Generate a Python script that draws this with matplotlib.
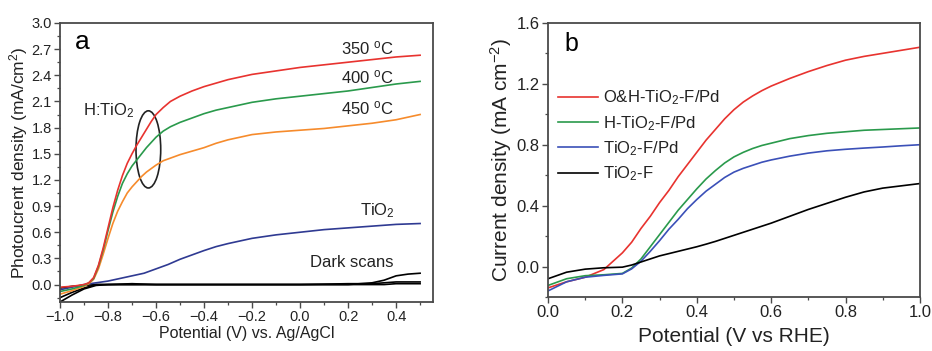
import matplotlib
matplotlib.use("Agg")
import matplotlib.pyplot as plt
from matplotlib.patches import Ellipse
from matplotlib.ticker import MultipleLocator

plt.rcParams['font.family'] = ['Liberation Sans', 'DejaVu Sans']
plt.rcParams['mathtext.fontset'] = 'custom'
plt.rcParams['mathtext.rm'] = 'Liberation Sans'
plt.rcParams['mathtext.it'] = 'Liberation Sans:italic'
plt.rcParams['mathtext.bf'] = 'Liberation Sans:bold'

# ---------------- Panel a data ----------------
xa = [-1.0, -0.95, -0.9, -0.88, -0.86, -0.84, -0.82, -0.8, -0.78, -0.76, -0.74, -0.72, -0.70,
      -0.68, -0.66, -0.64, -0.62, -0.60, -0.57, -0.54, -0.5, -0.45, -0.4, -0.35, -0.3, -0.25,
      -0.2, -0.1, 0.0, 0.1, 0.2, 0.3, 0.4, 0.5]
red_a = [-0.03, -0.02, 0.0, 0.02, 0.08, 0.22, 0.42, 0.65, 0.88, 1.08, 1.25, 1.39, 1.50,
         1.60, 1.69, 1.78, 1.87, 1.95, 2.03, 2.10, 2.16, 2.22, 2.27, 2.31, 2.35, 2.38,
         2.41, 2.45, 2.49, 2.52, 2.55, 2.58, 2.61, 2.63]
green_a = [-0.08, -0.05, -0.01, 0.02, 0.07, 0.21, 0.40, 0.62, 0.83, 1.01, 1.16, 1.27, 1.36,
           1.43, 1.50, 1.57, 1.63, 1.69, 1.76, 1.81, 1.86, 1.91, 1.96, 2.00, 2.03, 2.06,
           2.09, 2.13, 2.16, 2.19, 2.22, 2.26, 2.30, 2.33]
orange_a = [-0.11, -0.07, -0.02, 0.01, 0.06, 0.18, 0.35, 0.53, 0.70, 0.84, 0.95, 1.05, 1.12,
            1.18, 1.24, 1.29, 1.33, 1.37, 1.42, 1.45, 1.49, 1.53, 1.57, 1.62, 1.66, 1.69,
            1.72, 1.75, 1.77, 1.79, 1.82, 1.85, 1.89, 1.95]

xa_blue = [-1.0, -0.95, -0.9, -0.85, -0.8, -0.75, -0.7, -0.65, -0.6, -0.55, -0.5, -0.45,
           -0.4, -0.35, -0.3, -0.25, -0.2, -0.1, 0.0, 0.1, 0.2, 0.3, 0.4, 0.5]
blue_a = [-0.06, -0.03, 0.0, 0.02, 0.04, 0.07, 0.10, 0.13, 0.18, 0.23, 0.29, 0.34,
          0.39, 0.435, 0.47, 0.50, 0.53, 0.57, 0.60, 0.63, 0.65, 0.67, 0.69, 0.70]

xa_dark = [-1.0, -0.95, -0.9, -0.85, -0.8, -0.7, -0.6, -0.4, -0.2, 0.0, 0.2, 0.3, 0.35, 0.4, 0.45, 0.5]
dark1 = [-0.20, -0.12, -0.05, -0.01, 0.0, 0.01, 0.0, 0.0, 0.0, 0.0, 0.0, 0.02, 0.05, 0.10, 0.12, 0.13]
dark2 = [-0.15, -0.09, -0.04, 0.0, 0.0, 0.0, 0.0, 0.0, 0.0, 0.0, 0.01, 0.01, 0.02, 0.03, 0.03, 0.03]
dark3 = [-0.04, -0.02, -0.01, 0.0, 0.0, 0.0, 0.0, 0.0, 0.0, 0.0, 0.0, 0.0, 0.0, 0.01, 0.01, 0.01]

# ---------------- Panel b data ----------------
xb = [0.0, 0.05, 0.1, 0.15, 0.2, 0.225, 0.25, 0.275, 0.3, 0.325, 0.35, 0.375, 0.4, 0.425,
      0.45, 0.475, 0.5, 0.525, 0.55, 0.575, 0.6, 0.65, 0.7, 0.75, 0.8, 0.85, 0.9, 0.95, 1.0]
ohtio2 = [-0.14, -0.10, -0.07, -0.02, 0.09, 0.16, 0.25, 0.33, 0.42, 0.50, 0.59, 0.67, 0.75, 0.83,
          0.90, 0.97, 1.03, 1.08, 1.12, 1.155, 1.185, 1.235, 1.28, 1.32, 1.355, 1.38, 1.40, 1.42, 1.44]
htio2 = [-0.124, -0.08, -0.06, -0.054, -0.045, -0.01, 0.05, 0.13, 0.21, 0.29, 0.37, 0.44, 0.51,
         0.575, 0.63, 0.68, 0.72, 0.75, 0.775, 0.795, 0.81, 0.84, 0.86, 0.875, 0.885, 0.895,
         0.90, 0.905, 0.91]
tio2pd = [-0.16, -0.10, -0.07, -0.058, -0.048, -0.015, 0.035, 0.10, 0.17, 0.245, 0.31, 0.38, 0.44,
          0.495, 0.54, 0.585, 0.62, 0.645, 0.665, 0.685, 0.70, 0.725, 0.745, 0.76, 0.77, 0.778,
          0.785, 0.793, 0.80]
tio2f = [-0.08, -0.037, -0.017, -0.008, -0.004, 0.01, 0.03, 0.05, 0.07, 0.085, 0.10, 0.115, 0.13,
         0.147, 0.165, 0.185, 0.205, 0.225, 0.245, 0.265, 0.285, 0.33, 0.375, 0.415, 0.455,
         0.49, 0.515, 0.53, 0.545]
labels_b = ['O&H-TiO$_2$-F/Pd', 'H-TiO$_2$-F/Pd', 'TiO$_2$-F/Pd', 'TiO$_2$-F']

RED = '#e8332f'
GREEN = '#2a9a4c'
ORANGE = '#f68b2c'
NAVY = '#2f3a92'
BLUE = '#3b50b8'
TXT = '#222222'
SPINE = '#4a4a4a'

fig = plt.figure(figsize=(9.32, 3.51), dpi=100)
axa = fig.add_axes([0.0644, 0.1396, 0.400, 0.795])
axb = fig.add_axes([0.588, 0.1538, 0.399, 0.781])

def style(ax, fs):
    for s in ax.spines.values():
        s.set_color(SPINE)
        s.set_linewidth(1.3)
    ax.tick_params(which='major', direction='out', length=4, width=1.0, color=SPINE,
                   labelsize=fs, labelcolor=TXT, pad=2)
    ax.tick_params(which='minor', direction='out', length=2.5, width=0.9, color=SPINE)
    ax.tick_params(top=False, right=False)

lw = 1.2
axa.plot(xa_dark, dark1, color='black', lw=lw)
axa.plot(xa_dark, dark2, color='black', lw=lw)
axa.plot(xa_dark, dark3, color='black', lw=lw)
axa.plot(xa_blue, blue_a, color=NAVY, lw=lw)
axa.plot(xa, orange_a, color=ORANGE, lw=lw)
axa.plot(xa, green_a, color=GREEN, lw=lw)
axa.plot(xa, red_a, color=RED, lw=lw)
axa.set_xlim(-1.0, 0.553)
axa.set_ylim(-0.2, 3.0)
axa.xaxis.set_minor_locator(MultipleLocator(0.1))
axa.yaxis.set_minor_locator(MultipleLocator(0.15))
axa.set_xticks([-1.0, -0.8, -0.6, -0.4, -0.2, 0.0, 0.2, 0.4])
axa.set_yticks([0.0, 0.3, 0.6, 0.9, 1.2, 1.5, 1.8, 2.1, 2.4, 2.7, 3.0])
style(axa, 10.5)
axa.set_xlabel('Potential (V) vs. Ag/AgCl', fontsize=11.5, color=TXT, labelpad=1)
axa.set_ylabel('Photoucrent density (mA/cm$^2$)', fontsize=12.5, color=TXT, labelpad=1)
axa.text(0.04, 0.975, 'a', transform=axa.transAxes, fontsize=19, ha='left', va='top', color='black')
axa.text(0.169, 2.71, r'350 $^{\mathrm{o}}$C', fontsize=12, color=TXT, va='center')
axa.text(0.169, 2.38, r'400 $^{\mathrm{o}}$C', fontsize=12, color=TXT, va='center')
axa.text(0.169, 2.02, r'450 $^{\mathrm{o}}$C', fontsize=12, color=TXT, va='center')
axa.text(-0.905, 2.0, 'H:TiO$_2$', fontsize=12, color=TXT, va='center')
axa.text(0.248, 0.85, 'TiO$_2$', fontsize=12, color=TXT, va='center')
axa.text(0.041, 0.25, 'Dark scans', fontsize=12, color=TXT, va='center')
axa.add_patch(Ellipse((-0.632, 1.55), 0.103, 0.885, fill=False, edgecolor='#222222', lw=1.2))

# Panel b
colors_b = [RED, GREEN, BLUE, 'black']
for yv, c, lab in zip([ohtio2, htio2, tio2pd, tio2f], colors_b, labels_b):
    axb.plot(xb, yv, color=c, lw=lw, label=lab)
axb.set_xlim(0.0, 1.0)
axb.set_ylim(-0.2, 1.6)
axb.xaxis.set_major_locator(MultipleLocator(0.2))
axb.xaxis.set_minor_locator(MultipleLocator(0.1))
axb.yaxis.set_minor_locator(MultipleLocator(0.2))
axb.set_yticks([0.0, 0.4, 0.8, 1.2, 1.6])
style(axb, 12)
axb.set_xlabel('Potential (V vs RHE)', fontsize=15, color=TXT, labelpad=5)
axb.set_ylabel('Current density (mA cm$^{-2}$)', fontsize=15, color=TXT, labelpad=2)
axb.text(0.043, 0.967, 'b', transform=axb.transAxes, fontsize=18, ha='left', va='top', color='black')
axb.legend(loc='upper left', bbox_to_anchor=(0.01, 0.785), frameon=False, fontsize=12,
           handlelength=2.4, handletextpad=0.3, labelspacing=0.4, borderaxespad=0,
           labelcolor=TXT)

fig.savefig('out.png', dpi=100)
